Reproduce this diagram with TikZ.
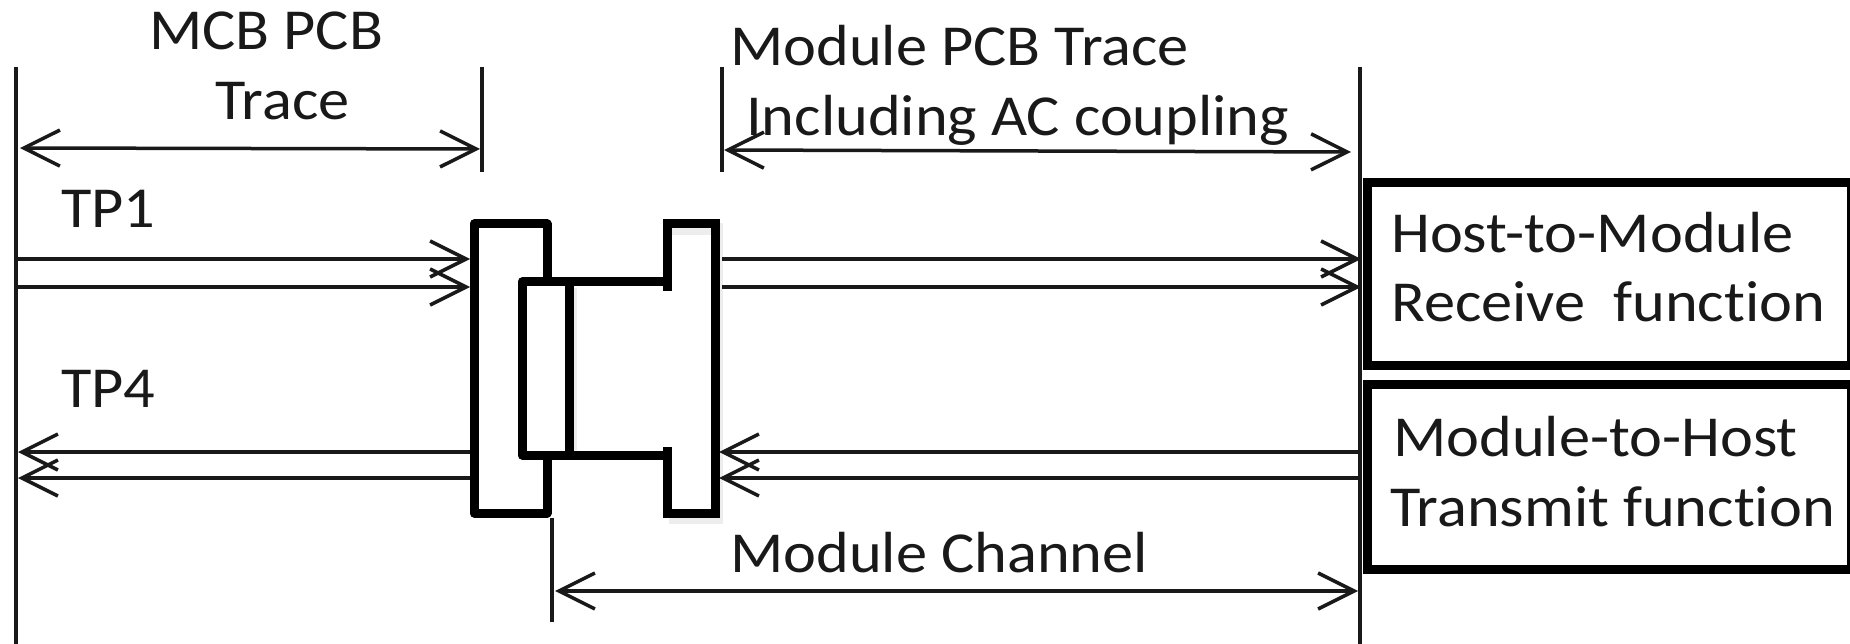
\documentclass[tikz,border=0pt]{standalone}
\usepackage{fontspec}
\setmainfont[FakeStretch=1.075, Ligatures=NoCommon]{Carlito}
\usetikzlibrary{arrows.meta}
\tikzset{
	wire/.style={line width=3.5pt, black!90},
	barb/.style={wire, >={Straight Barb[length=36pt,width=36pt,line width=3.5pt]}},
	heavy/.style={line width=9pt, line join=round},
	glow/.style={line width=12pt, black, opacity=0.07},
	funcbox/.style={draw, line width=9pt, minimum width=484pt, inner sep=0pt, outer sep=0pt},
	label/.style={anchor=base west, inner sep=0pt, font=\fontsize{58}{58}\selectfont, black!90}
}
\begin{document}
\begin{tikzpicture}[x=1pt, y=-1pt]
	\useasboundingbox[fill=white] (0, 0) rectangle (1850, 644);
	% Hilfslinien
	\coordinate (mcbtop) at (16, 67);
	\coordinate (mcbbottom) at (16, 644);
	\coordinate (slottop) at (482, 67);
	\coordinate (slotbottom) at (482, 172);
	\coordinate (tracetop) at (722, 67);
	\coordinate (tracebottom) at (722, 172);
	\coordinate (hosttop) at (1360, 67);
	\coordinate (hostbottom) at (1360, 644);
	\coordinate (chantop) at (552, 518);
	\coordinate (chanbottom) at (552, 622);
	\draw[wire] (mcbtop) -- (mcbbottom);
	\draw[wire] (slottop) -- (slotbottom);
	\draw[wire] (tracetop) -- (tracebottom);
	\draw[wire] (hosttop) -- (hostbottom);
	\draw[wire] (chantop) -- (chanbottom);

	% Masspfeile
	\coordinate (mcbleft) at (20, 148);
	\coordinate (mcbright) at (480, 149);
	\coordinate (traceleft) at (724, 150);
	\coordinate (traceright) at (1351, 152);
	\coordinate (chanleft) at (555, 591);
	\coordinate (chanright) at (1358, 591);
	\draw[barb, <->] (mcbleft) -- (mcbright);
	\draw[barb, <->] (traceleft) -- (traceright);
	\draw[barb, <->] (chanleft) -- (chanright);

	% Signalpfeile
	\foreach \y/\name in {259/a, 287/b}{
		\coordinate (tpin\name) at (16, \y);
		\coordinate (conin\name) at (470, \y);
		\coordinate (modin\name) at (722, \y);
		\coordinate (hostin\name) at (1361, \y);
		\draw[barb, ->] (tpin\name) -- (conin\name);
		\draw[barb, ->] (modin\name) -- (hostin\name);
	}
	\foreach \y/\name in {452/a, 478/b}{
		\coordinate (tpout\name) at (18, \y);
		\coordinate (conout\name) at (472, \y);
		\coordinate (modout\name) at (719, \y);
		\coordinate (hostout\name) at (1360, \y);
		\draw[barb, ->] (conout\name) -- (tpout\name);
		\draw[barb, ->] (hostout\name) -- (modout\name);
	}

	% Stecker
	\coordinate (plugtop) at (569, 282);
	\coordinate (plugbottom) at (569, 455);
	\coordinate (cardtop) at (667, 282);
	\coordinate (cardbottom) at (667, 455);
	\draw[glow] (669, 229) -- (717, 229) -- (717, 518) -- (669, 518);
	\draw[glow] (571, 288) -- (571, 460);
	\draw[heavy] (547, 282) -- (547, 224) -- (474, 224) -- (474, 513) -- (547, 513)
	-- (547, 455);
	\draw[heavy] (522, 282) rectangle (569, 455);
	\draw[heavy] (plugtop) -- (cardtop);
	\draw[heavy] (plugbottom) -- (cardbottom);
	\draw[heavy, line join=miter] (667, 291) -- (667, 224) -- (715, 224) -- (715, 513)
	-- (667, 513) -- (667, 447);

	% Funktionsbloecke
	\node[funcbox, minimum height=182pt] (hostbox) at (1609, 274) {};
	\node[funcbox, minimum height=185pt] (modbox) at (1609, 476.5) {};

	% Beschriftungen
	\node[label] (mcbname) at (149, 50) {MCB PCB};
	\node[label] (mcbtrace) at (215, 120) {Trace};
	\node[label] (tpone) at (61, 228) {TP1};
	\node[label] (tpfour) at (61, 407) {TP4};
	\node[label] (tracename) at (730, 66) {Module PCB Trace};
	\node[label] (tracenote) at (746, 136) {Including AC coupling};
	\node[label] (channame) at (730, 572) {Module Channel};
	\node[label] (hostone) at (1391, 253) {Host-to-Module};
	\node[label] (hosttwo) at (1391, 322) {Receive\ \ function};
	\node[label] (modone) at (1393, 456) {Module-to-Host};
	\node[label] (modtwo) at (1390, 526) {Transmit function};
\end{tikzpicture}
\end{document}
